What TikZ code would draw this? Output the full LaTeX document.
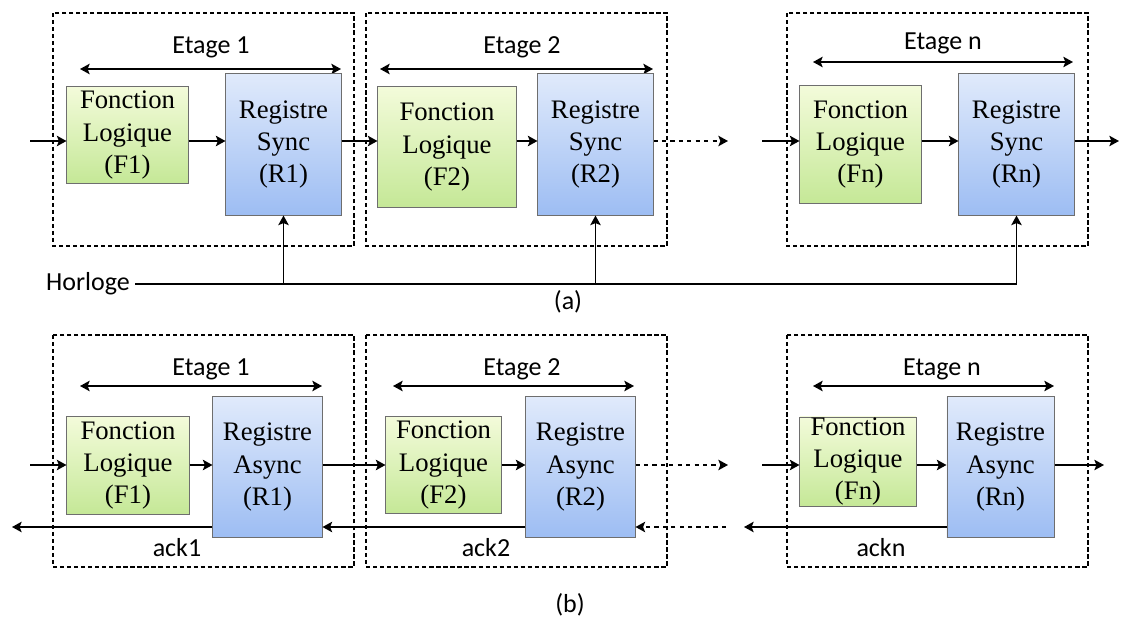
\documentclass[tikz,border=0pt]{standalone}
\usepackage{fontspec}
\setmainfont[Extension=.ttf, UprightFont=*-Regular]{LiberationSerif}
\newfontfamily\labelfont{Carlito}
\usetikzlibrary{positioning, arrows.meta}
\definecolor{flTop}{HTML}{F3FBDA}
\definecolor{flBot}{HTML}{C5E897}
\definecolor{regTop}{HTML}{E0EAFB}
\definecolor{regBot}{HTML}{9DBDF3}
\definecolor{boxLine}{HTML}{6E6E6E}
\tikzset{
	fl/.style={rectangle, draw=boxLine, line width=0.7pt, top color=flTop, bottom color=flBot, align=center, inner sep=0pt, font=\fontsize{19}{22.8}\selectfont},
	reg/.style={rectangle, draw=boxLine, line width=0.7pt, top color=regTop, bottom color=regBot, align=center, inner sep=0pt, minimum width=2.875cm, minimum height=3.525cm, font=\fontsize{19}{22.8}\selectfont},
	stagebox/.style={draw, line width=1pt, dash pattern=on 3pt off 2pt},
	lbl/.style={font=\labelfont\fontsize{18.5}{22}\selectfont}
}

\begin{document}
\begin{tikzpicture}[x=0.025cm, y=-0.025cm, line width=1.2pt, >={Stealth[length=2.4mm, width=2.6mm, inset=0.5mm]}]
		\useasboundingbox (0,0) rectangle (1121,619);

		%(a) synchronous pipeline
		\draw[stagebox] (53,13) rectangle (354,246);
		\draw[stagebox] (366,13) rectangle (667,246);
		\draw[stagebox] (787,13) rectangle (1088,246);

		\node[lbl] (ea1) at (211,47) {Etage 1};
		\node[lbl] (ea2) at (522,47) {Etage 2};
		\node[lbl] (ean) at (943,43) {Etage n};
		\draw[<->] (80,69) -- (341,69);
		\draw[<->] (380,69) -- (653,69);
		\draw[<->] (813,62) -- (1073,62);

		\node[fl, minimum width=3.025cm, minimum height=2.4cm] (f1) at (127.5,135) {Fonction\\Logique\\(F1)};
		\node[reg] (r1) at (283.5,144.5) {Registre\\Sync\\(R1)};
		\node[fl, minimum width=3.45cm, minimum height=3cm] (f2) at (447,147) {Fonction\\Logique\\(F2)};
		\node[reg] (r2) at (595.5,144.5) {Registre\\Sync\\(R2)};
		\node[fl, minimum width=3.025cm, minimum height=2.925cm] (fn) at (860.5,144.5) {Fonction\\Logique\\(Fn)};
		\node[reg] (rn) at (1016.5,144.5) {Registre\\Sync\\(Rn)};

		\coordinate (sa) at (0,141);
		\coordinate (ina1) at (30,141);
		\coordinate (outa2) at (728,141);
		\coordinate (inan) at (762,141);
		\coordinate (outan) at (1119,141);
		\draw[->] (ina1) -- (f1.west |- sa);
		\draw[->] (f1.east |- sa) -- (r1.west |- sa);
		\draw[->] (r1.east |- sa) -- (f2.west |- sa);
		\draw[->] (f2.east |- sa) -- (r2.west |- sa);
		\draw[->, dashed] (r2.east |- sa) -- (outa2);
		\draw[->] (inan) -- (fn.west |- sa);
		\draw[->] (fn.east |- sa) -- (rn.west |- sa);
		\draw[->] (rn.east |- sa) -- (outan);

		%clock
		\node[lbl] (clk) at (88,284) {Horloge};
		\draw[->] (clk.east) -| (rn.south);
		\draw[->] (clk.east -| r1.south) -- (r1.south);
		\draw[->] (clk.east -| r2.south) -- (r2.south);
		\node[lbl] (capa) at (568,302) {(a)};

		%(b) asynchronous pipeline
		\draw[stagebox] (53,335) rectangle (354,567);
		\draw[stagebox] (366,335) rectangle (667,567);
		\draw[stagebox] (787,335) rectangle (1088,567);

		\node[lbl] (eb1) at (211,369) {Etage 1};
		\node[lbl] (eb2) at (522,369) {Etage 2};
		\node[lbl] (ebn) at (942,369) {Etage n};
		\draw[<->] (80,386) -- (322,386);
		\draw[<->] (393,386) -- (634,386);
		\draw[<->] (813,386) -- (1054,386);

		\node[fl, minimum width=3.05cm, minimum height=2.425cm] (bf1) at (128,465.5) {Fonction\\Logique\\(F1)};
		\node[reg, minimum width=2.725cm, minimum height=3.5cm] (br1) at (267.5,467) {Registre\\Async\\(R1)};
		\node[fl, minimum width=2.875cm, minimum height=2.4cm] (bf2) at (443.5,465) {Fonction\\Logique\\(F2)};
		\node[reg, minimum width=2.725cm, minimum height=3.5cm] (br2) at (580.5,467) {Registre\\Async\\(R2)};
		\node[fl, minimum width=2.9cm, minimum height=2.225cm] (bfn) at (858,461.5) {Fonction\\Logique\\(Fn)};
		\node[reg, minimum width=2.675cm, minimum height=3.5cm] (brn) at (1000.5,467) {Registre\\Async\\(Rn)};

		\coordinate (sb) at (0,465);
		\coordinate (kb) at (0,527);
		\coordinate (inb1) at (30,465);
		\coordinate (outb2) at (728,465);
		\coordinate (inbn) at (762,465);
		\coordinate (outbn) at (1104,465);
		\draw[->] (inb1) -- (bf1.west |- sb);
		\draw[->] (bf1.east |- sb) -- (br1.west |- sb);
		\draw[->] (br1.east |- sb) -- (bf2.west |- sb);
		\draw[->] (bf2.east |- sb) -- (br2.west |- sb);
		\draw[->, dashed] (br2.east |- sb) -- (outb2);
		\draw[->] (inbn) -- (bfn.west |- sb);
		\draw[->] (bfn.east |- sb) -- (brn.west |- sb);
		\draw[->] (brn.east |- sb) -- (outbn);

		%acknowledge
		\coordinate (ackout1) at (12,527);
		\coordinate (ackin2) at (726,527);
		\coordinate (ackoutn) at (744,527);
		\draw[->] (br1.west |- kb) -- (ackout1);
		\draw[->] (br2.west |- kb) -- (br1.east |- kb);
		\draw[->, dashed] (ackin2) -- (br2.east |- kb);
		\draw[->] (brn.west |- kb) -- (ackoutn);
		\node[lbl] (ack1) at (177,548) {ack1};
		\node[lbl] (ack2) at (486,548) {ack2};
		\node[lbl] (ackn) at (881,548) {ackn};
		\node[lbl] (capb) at (570,605) {(b)};
\end{tikzpicture}
\end{document}
